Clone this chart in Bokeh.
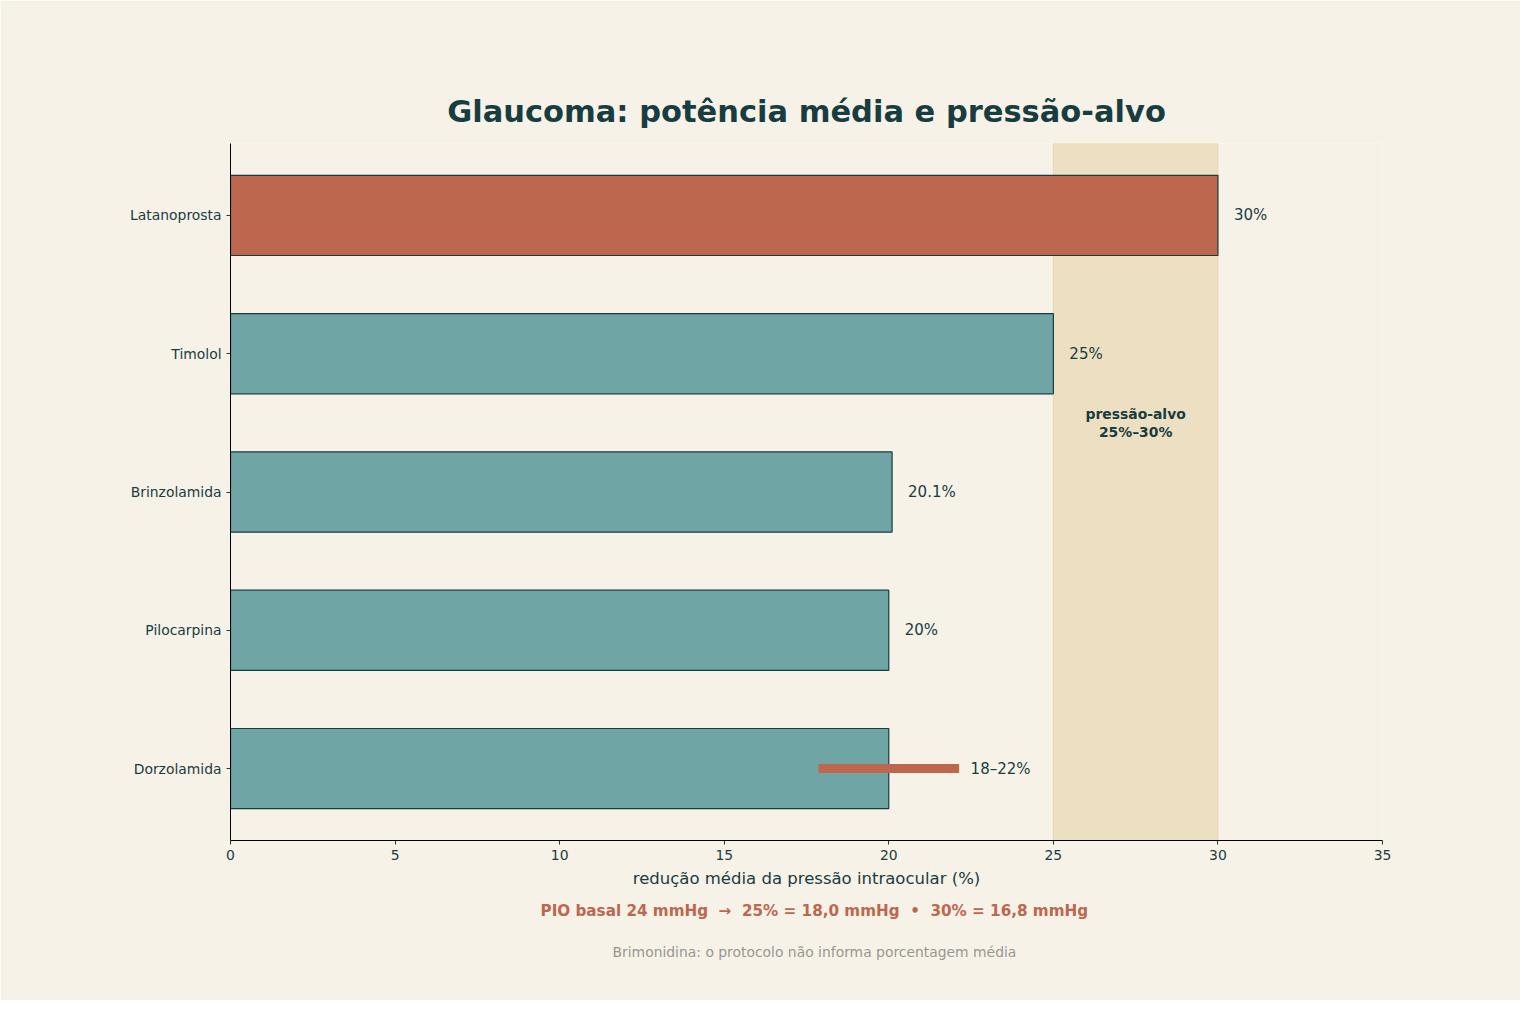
from bokeh.plotting import figure
from bokeh.models import Range1d, BoxAnnotation, Title, ColumnDataSource, FixedTicker
from bokeh.core.properties import value
from bokeh.embed import file_html
from bokeh.resources import INLINE

# data
drugs = ["Latanoprosta", "Timolol", "Brinzolamida", "Pilocarpina", "Dorzolamida"]
mean_reduction = [30, 25, 20.1, 20, 20]
value_labels = ["30%", "25%", "20.1%", "20%", "18–22%"]
label_at = [30, 25, 20.1, 20, 22]
range_drug = "Dorzolamida"
range_low, range_high = 18, 22
target_low, target_high = 25, 30
x_ticks = [0, 5, 10, 15, 20, 25, 30, 35]

BG = "#f7f2e8"
DARK = "#173d40"
TEAL = "#6fa5a4"
RED = "#bc674e"
FONT = "DejaVu Sans"
NB = "\u00a0"

ypos = list(range(len(drugs)))
colors = [RED if d == "Latanoprosta" else TEAL for d in drugs]

p = figure(
    width=1520, height=1008,
    x_range=Range1d(0, 35), y_range=Range1d(len(drugs) - 0.48, -0.52),
    output_backend="svg", toolbar_location=None,
    background_fill_color=BG, border_fill_color=BG,
    min_border_left=230, min_border_top=143, min_border_right=138, min_border_bottom=160,
    frame_width=1152, frame_height=697,
)
p.outline_line_color = None
p.xgrid.visible = False
p.ygrid.visible = False

p.title.text = "Glaucoma: potência média e pressão-alvo"
p.title.align = "center"
p.title.text_font = FONT
p.title.text_font_size = "30.5px"
p.title.text_font_style = "bold"
p.title.text_color = DARK
p.title.standoff = 30

# target band
p.add_layout(BoxAnnotation(left=target_low, right=target_high, fill_color="#eddfc2",
                           fill_alpha=1.0, line_color="#e6d2a8", line_alpha=0.8,
                           level="underlay"))

src = ColumnDataSource(dict(y=ypos, v=mean_reduction, c=colors,
                            lab=value_labels, lx=label_at))
p.hbar(y="y", left=0, right="v", height=0.58, source=src, fill_color="c",
       line_color=DARK, line_width=1.2)

ri = drugs.index(range_drug)
p.segment(x0=[range_low], x1=[range_high], y0=[ri], y1=[ri], line_color=RED,
          line_width=9, line_cap="square")

p.text(x="lx", y="y", text="lab", source=src, x_offset=16, text_baseline="middle",
       text_align="left", text_font=value(FONT), text_font_size="15px", text_color=DARK)

p.text(x=[(target_low + target_high) / 2], y=[1.5], text=["pressão-alvo\n25%–30%"],
       text_align="center", text_baseline="middle", text_font=value(FONT),
       text_font_size="13.9px", text_font_style="bold", text_color=DARK,
       text_line_height=1.15)

# axes
p.xaxis.ticker = FixedTicker(ticks=x_ticks)
p.yaxis.ticker = FixedTicker(ticks=ypos)
p.yaxis.major_label_overrides = {i: d for i, d in enumerate(drugs)}
for ax in (p.xaxis, p.yaxis):
    ax.axis_line_color = "black"
    ax.axis_line_width = 1
    ax.major_tick_line_color = DARK
    ax.major_tick_out = 4
    ax.major_tick_in = 0
    ax.minor_tick_line_color = None
    ax.major_label_text_font = FONT
    ax.major_label_text_font_size = "13.9px"
    ax.major_label_text_color = DARK
    ax.major_label_standoff = 5
p.xaxis.axis_label = "redução média da pressão intraocular (%)"
p.xaxis.axis_label_text_font = FONT
p.xaxis.axis_label_text_font_size = "16.5px"
p.xaxis.axis_label_text_font_style = "normal"
p.xaxis.axis_label_text_color = DARK
p.xaxis.axis_label_standoff = 6

note = f"PIO basal 24 mmHg{NB} →{NB} 25% = 18,0 mmHg{NB} •{NB} 30% = 16,8 mmHg"
p.add_layout(Title(text=note, align="left", text_font=FONT, text_font_size="15.2px",
                   text_font_style="bold", text_color=RED, offset=310, standoff=18), "below")
p.add_layout(Title(text="Brimonidina: o protocolo não informa porcentagem média",
                   align="left", text_font=FONT, text_font_size="13.9px",
                   text_font_style="normal", text_color="#999690", offset=382, standoff=27), "below")

open("out.html", "w").write(file_html(p, INLINE))
